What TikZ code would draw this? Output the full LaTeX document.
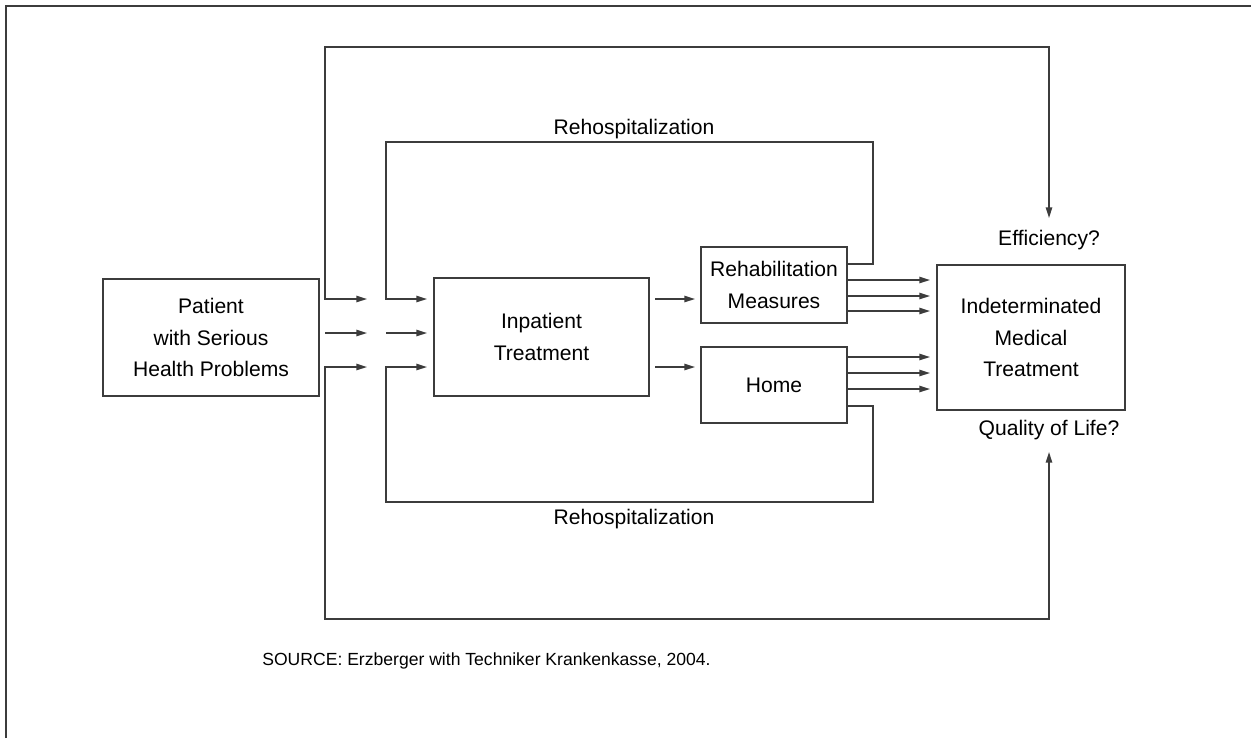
\documentclass[tikz,border=0pt]{standalone}
\usepackage{fontspec}
\setmainfont{Liberation Sans}
\usetikzlibrary{arrows.meta}
\definecolor{linec}{RGB}{60,60,60}
\begin{document}
\begin{tikzpicture}[x=0.02cm,y=-0.02cm,
  box/.style={draw=linec,line width=0.85pt,inner sep=0pt,align=center,font=\fontsize{12}{18}\selectfont},
  lbl/.style={inner sep=0pt,font=\fontsize{12}{18}\selectfont},
  conn/.style={draw=linec,line width=0.85pt},
  arr/.style={conn,-{Triangle[length=6pt,width=3.6pt]}},
  darr/.style={conn,{Triangle[length=6pt,width=3.6pt]}-{Triangle[length=6pt,width=3.6pt]}}]
\useasboundingbox (0,0) rectangle (1251,738);
\draw[line width=1.1pt,linec] (6,738) -- (6,6) -- (1251,6);

% boxes
\node[box,minimum width=4.32cm,minimum height=2.34cm] (pat) at (211,337.5) {Patient\\with Serious\\Health Problems};
\node[box,minimum width=4.30cm,minimum height=2.36cm] (inp) at (541.5,337) {Inpatient\\Treatment};
\node[box,minimum width=2.92cm,minimum height=1.52cm] (reh) at (774,285) {Rehabilitation\\Measures};
\node[box,minimum width=2.92cm,minimum height=1.52cm] (home) at (774,385) {Home};
\node[box,minimum width=3.76cm,minimum height=2.90cm] (ind) at (1031,337.5) {Indeterminated\\Medical\\Treatment};

% labels
\node[lbl] (eff) at (1049,240) {Efficiency?};
\node[lbl] (qol) at (1049,430) {Quality of Life?};
\node[lbl] (rh1) at (634,129) {Rehospitalization};
\node[lbl] (rh2) at (634,519) {Rehospitalization};
\node[lbl,anchor=west,font=\fontsize{10}{12}\selectfont] (src) at (262,661) {SOURCE: Erzberger with Techniker Krankenkasse, 2004.};

% coordinates
\coordinate (oA1) at (367,299);
\coordinate (oA2) at (367,333);
\coordinate (oA3) at (367,367);
\coordinate (o2) at (325,333);
\coordinate (iA1) at (427,299);
\coordinate (iA2) at (427,333);
\coordinate (iA3) at (427,367);
\coordinate (i2) at (386,333);
\coordinate (otL) at (325,47);
\coordinate (otR) at (1049,47);
\coordinate (effin) at (1049,218);
\coordinate (obL) at (325,619);
\coordinate (obR) at (1049,619);
\coordinate (qolin) at (1049,452);
\coordinate (itL) at (386,142);
\coordinate (itR) at (873,142);
\coordinate (ibL) at (386,502);
\coordinate (ibR) at (873,502);

% outer loops
\draw[darr] (oA1) -| (otL) -- (otR) -- (effin);
\draw[darr] (oA3) -| (obL) -- (obR) -- (qolin);
\draw[arr] (o2) -- (oA2);

% inner loops
\draw[arr] (reh.east |- 0,264) -| (itR) -- (itL) |- (iA1);
\draw[arr] (home.east |- 0,406) -| (ibR) -- (ibL) |- (iA3);
\draw[arr] (i2) -- (iA2);

% inpatient to rehab / home
\draw[arr] (655,299) -- (695,299);
\draw[arr] (655,367) -- (695,367);

% to indeterminated
\foreach \yy in {280,296,311,357,373,389}
  \draw[arr] (847,\yy) -- (930,\yy);
\end{tikzpicture}
\end{document}
